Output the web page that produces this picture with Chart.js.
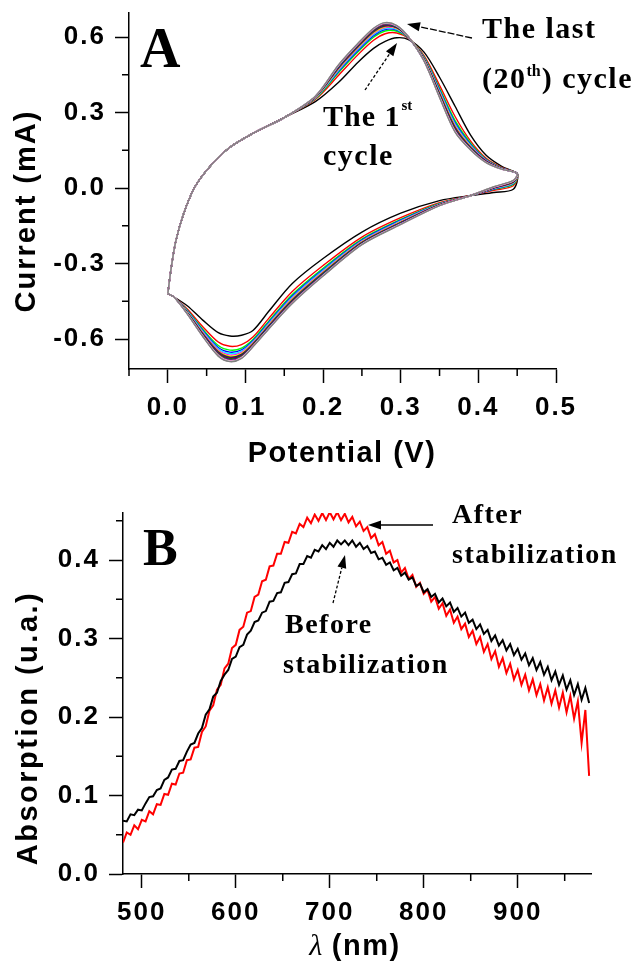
<!DOCTYPE html>
<html>
<head>
<meta charset="utf-8">
<script src="https://cdn.jsdelivr.net/npm/chart.js@4.4.1/dist/chart.umd.min.js"></script>
<style>
  html, body { margin: 0; padding: 0; background: #fff; }
  #wrap { position: relative; width: 638px; height: 962px; }
  #cvA { position: absolute; left: 0; top: 0; }
  #cvB { position: absolute; left: 0; top: 475px; }
</style>
</head>
<body>
<div id="wrap">
  <canvas id="cvA" width="638" height="475"></canvas>
  <canvas id="cvB" width="638" height="487"></canvas>
</div>
<script>
// ---- panel A: cyclic voltammetry, 20 cycles (potential in V, current in mA)
const POTENTIAL = [0, 0.004, 0.01, 0.02, 0.035, 0.055, 0.08, 0.11, 0.15, 0.19, 0.22, 0.245, 0.265, 0.28, 0.295, 0.31, 0.33, 0.35, 0.37, 0.39, 0.41, 0.43, 0.45,
  0.445, 0.42, 0.39, 0.35, 0.3, 0.25, 0.2, 0.16, 0.13, 0.11, 0.095, 0.08, 0.065, 0.045, 0.025, 0.008, 0];

const cycle01 = [-0.42,-0.325,-0.215,-0.105,0.005,0.088,0.162,0.218,0.28, 0.343,0.42,0.5,0.555,0.583,0.597,0.59,0.54,0.44,0.325,0.21,0.13,0.086,0.055, -0.005,-0.018,-0.03,-0.05,-0.1,-0.175,-0.28,-0.38,-0.49,-0.565,-0.585,-0.588,-0.575,-0.525,-0.468, -0.433,-0.42];
const cycle02 = [-0.42,-0.325,-0.215,-0.105,0.005,0.088,0.162,0.218,0.28, 0.352,0.448,0.53,0.587,0.613,0.616,0.594,0.526,0.408,0.284,0.186,0.118,0.082,0.056, 0.009,-0.009,-0.03,-0.058,-0.118,-0.195,-0.308,-0.412,-0.518,-0.591,-0.622,-0.629,-0.612,-0.551,-0.481, -0.433,-0.42];
const cycle03 = [-0.42,-0.325,-0.215,-0.105,0.005,0.088,0.162,0.218,0.28, 0.355,0.459,0.541,0.599,0.624,0.623,0.596,0.521,0.396,0.268,0.178,0.114,0.08,0.057, 0.014,-0.005,-0.03,-0.061,-0.125,-0.203,-0.319,-0.424,-0.529,-0.601,-0.636,-0.644,-0.626,-0.561,-0.486, -0.433,-0.42];
const cycle04 = [-0.42,-0.325,-0.215,-0.105,0.005,0.088,0.162,0.218,0.28, 0.357,0.464,0.547,0.605,0.63,0.627,0.596,0.518,0.39,0.26,0.173,0.112,0.079,0.057, 0.017,-0.004,-0.03,-0.063,-0.128,-0.207,-0.324,-0.43,-0.534,-0.606,-0.643,-0.652,-0.634,-0.566,-0.488, -0.433,-0.42];
const cycle05 = [-0.42,-0.325,-0.215,-0.105,0.005,0.088,0.162,0.218,0.28, 0.358,0.468,0.552,0.61,0.634,0.63,0.597,0.516,0.385,0.254,0.169,0.11,0.078,0.057, 0.019,-0.002,-0.03,-0.064,-0.131,-0.21,-0.328,-0.435,-0.538,-0.61,-0.648,-0.658,-0.639,-0.57,-0.49, -0.433,-0.42];
const cycle06 = [-0.42,-0.325,-0.215,-0.105,0.005,0.088,0.162,0.218,0.28, 0.359,0.472,0.556,0.614,0.638,0.633,0.597,0.514,0.381,0.249,0.166,0.109,0.078,0.057, 0.021,-0.001,-0.03,-0.065,-0.133,-0.212,-0.332,-0.439,-0.542,-0.613,-0.653,-0.664,-0.644,-0.573,-0.492, -0.433,-0.42];
const cycle07 = [-0.42,-0.325,-0.215,-0.105,0.005,0.088,0.162,0.218,0.28, 0.36,0.475,0.559,0.617,0.641,0.634,0.598,0.513,0.378,0.245,0.164,0.107,0.077,0.057, 0.022,0,-0.03,-0.066,-0.135,-0.214,-0.335,-0.442,-0.545,-0.616,-0.657,-0.668,-0.648,-0.576,-0.493, -0.433,-0.42];
const cycle08 = [-0.42,-0.325,-0.215,-0.105,0.005,0.088,0.162,0.218,0.28, 0.361,0.477,0.561,0.62,0.643,0.636,0.598,0.512,0.375,0.242,0.162,0.107,0.077,0.057, 0.023,0.001,-0.03,-0.066,-0.137,-0.216,-0.337,-0.445,-0.547,-0.618,-0.66,-0.671,-0.65,-0.578,-0.494, -0.433,-0.42];
const cycle09 = [-0.42,-0.325,-0.215,-0.105,0.005,0.088,0.162,0.218,0.28, 0.362,0.479,0.563,0.622,0.645,0.637,0.598,0.511,0.373,0.239,0.16,0.106,0.077,0.058, 0.024,0.001,-0.03,-0.067,-0.138,-0.217,-0.339,-0.447,-0.549,-0.62,-0.662,-0.674,-0.653,-0.58,-0.495, -0.433,-0.42];
const cycle10 = [-0.42,-0.325,-0.215,-0.105,0.005,0.088,0.162,0.218,0.28, 0.362,0.481,0.565,0.624,0.647,0.639,0.599,0.51,0.371,0.236,0.159,0.105,0.076,0.058, 0.025,0.002,-0.03,-0.067,-0.139,-0.218,-0.341,-0.449,-0.551,-0.621,-0.665,-0.676,-0.655,-0.581,-0.496, -0.433,-0.42];
const cycle11 = [-0.42,-0.325,-0.215,-0.105,0.005,0.088,0.162,0.218,0.28, 0.363,0.482,0.566,0.626,0.649,0.64,0.599,0.509,0.369,0.234,0.158,0.104,0.076,0.058, 0.026,0.002,-0.03,-0.068,-0.14,-0.219,-0.342,-0.451,-0.552,-0.623,-0.666,-0.678,-0.657,-0.583,-0.496, -0.433,-0.42];
const cycle12 = [-0.42,-0.325,-0.215,-0.105,0.005,0.088,0.162,0.218,0.28, 0.363,0.483,0.568,0.627,0.65,0.64,0.599,0.508,0.368,0.232,0.157,0.104,0.076,0.058, 0.027,0.003,-0.03,-0.068,-0.141,-0.22,-0.343,-0.452,-0.553,-0.624,-0.668,-0.68,-0.659,-0.584,-0.497, -0.433,-0.42];
const cycle13 = [-0.42,-0.325,-0.215,-0.105,0.005,0.088,0.162,0.218,0.28, 0.363,0.484,0.569,0.629,0.651,0.641,0.599,0.508,0.366,0.23,0.156,0.103,0.076,0.058, 0.027,0.003,-0.03,-0.068,-0.141,-0.221,-0.344,-0.454,-0.554,-0.625,-0.67,-0.682,-0.661,-0.585,-0.497, -0.433,-0.42];
const cycle14 = [-0.42,-0.325,-0.215,-0.105,0.005,0.088,0.162,0.218,0.28, 0.364,0.485,0.57,0.63,0.652,0.642,0.599,0.507,0.365,0.229,0.155,0.103,0.076,0.058, 0.028,0.003,-0.03,-0.069,-0.142,-0.222,-0.346,-0.455,-0.555,-0.626,-0.671,-0.683,-0.662,-0.586,-0.498, -0.433,-0.42];
const cycle15 = [-0.42,-0.325,-0.215,-0.105,0.005,0.088,0.162,0.218,0.28, 0.364,0.487,0.571,0.631,0.653,0.643,0.6,0.507,0.364,0.227,0.154,0.102,0.076,0.058, 0.028,0.004,-0.03,-0.069,-0.143,-0.223,-0.347,-0.456,-0.557,-0.627,-0.672,-0.685,-0.663,-0.587,-0.498, -0.433,-0.42];
const cycle16 = [-0.42,-0.325,-0.215,-0.105,0.005,0.088,0.162,0.218,0.28, 0.364,0.487,0.572,0.632,0.654,0.643,0.6,0.506,0.363,0.226,0.153,0.102,0.075,0.058, 0.029,0.004,-0.03,-0.069,-0.143,-0.223,-0.347,-0.457,-0.557,-0.628,-0.674,-0.686,-0.665,-0.588,-0.499, -0.433,-0.42];
const cycle17 = [-0.42,-0.325,-0.215,-0.105,0.005,0.088,0.162,0.218,0.28, 0.364,0.488,0.573,0.633,0.655,0.644,0.6,0.506,0.362,0.225,0.153,0.102,0.075,0.058, 0.029,0.004,-0.03,-0.069,-0.144,-0.224,-0.348,-0.458,-0.558,-0.628,-0.675,-0.687,-0.666,-0.588,-0.499, -0.433,-0.42];
const cycle18 = [-0.42,-0.325,-0.215,-0.105,0.005,0.088,0.162,0.218,0.28, 0.365,0.489,0.574,0.634,0.656,0.644,0.6,0.506,0.361,0.224,0.152,0.101,0.075,0.058, 0.029,0.005,-0.03,-0.07,-0.144,-0.224,-0.349,-0.459,-0.559,-0.629,-0.675,-0.688,-0.666,-0.589,-0.499, -0.433,-0.42];
const cycle19 = [-0.42,-0.325,-0.215,-0.105,0.005,0.088,0.162,0.218,0.28, 0.365,0.489,0.574,0.634,0.656,0.645,0.6,0.505,0.361,0.223,0.151,0.101,0.075,0.058, 0.03,0.005,-0.03,-0.07,-0.145,-0.225,-0.349,-0.459,-0.559,-0.629,-0.676,-0.689,-0.667,-0.589,-0.5, -0.433,-0.42];
const cycle20 = [-0.42,-0.325,-0.215,-0.105,0.005,0.088,0.162,0.218,0.28, 0.365,0.49,0.575,0.635,0.657,0.645,0.6,0.505,0.36,0.222,0.151,0.101,0.075,0.058, 0.03,0.005,-0.03,-0.07,-0.145,-0.225,-0.35,-0.46,-0.56,-0.63,-0.677,-0.69,-0.668,-0.59,-0.5, -0.433,-0.42];

const CYCLES = [cycle01, cycle02, cycle03, cycle04, cycle05, cycle06, cycle07, cycle08, cycle09, cycle10,
  cycle11, cycle12, cycle13, cycle14, cycle15, cycle16, cycle17, cycle18, cycle19, cycle20];
// Origin default colour order
const CYCLE_COLORS = ['#000000', '#ff0000', '#00ff00', '#0000ff', '#00ffff', '#ff00ff', '#ffff00', '#808000', '#000080', '#800080',
  '#800000', '#008000', '#008080', '#0000a0', '#ff8000', '#8000ff', '#ff0080', '#ffffff', '#c0c0c0', '#808080'];

// ---- panel B: absorption spectra
const WAVELENGTH = [480,484,488,492,496,500,504,508,512,516,
  520,524,528,532,536,540,544,548,552,556,
  560,564,568,572,576,580,584,588,592,596,
  600,604,608,612,616,620,624,628,632,636,
  640,644,648,652,656,660,664,668,672,676,
  680,684,688,692,696,700,704,708,712,716,
  720,724,728,732,736,740,744,748,752,756,
  760,764,768,772,776,780,784,788,792,796,
  800,804,808,812,816,820,824,828,832,836,
  840,844,848,852,856,860,864,868,872,876,
  880,884,888,892,896,900,904,908,912,916,
  920,924,928,932,936,940,944,948,952,956,
  960,964,968,972,976];

const ABS_BEFORE = [.068,.067,.076,.075,.082,.081,.090,.098,.099,.107,
  .109,.120,.123,.133,.134,.144,.145,.156,.165,.167,
  .179,.186,.203,.210,.226,.231,.246,.254,.260,.274,
  .277,.289,.292,.305,.310,.321,.323,.333,.335,.347,
  .348,.358,.359,.371,.372,.382,.383,.395,.395,.405,
  .403,.413,.411,.419,.414,.422,.417,.425,.420,.425,
  .419,.425,.417,.422,.414,.418,.409,.411,.401,.403,
  .394,.397,.387,.390,.380,.384,.375,.378,.367,.370,
  .359,.363,.353,.357,.346,.351,.341,.346,.334,.339,
  .328,.333,.320,.324,.312,.318,.306,.311,.297,.304,
  .291,.298,.285,.293,.279,.287,.273,.281,.266,.275,
  .260,.270,.254,.264,.247,.258,.241,.253,.235,.247,
  .228,.242,.222,.237,.218];

const ABS_AFTER = [.040,.053,.050,.062,.057,.069,.067,.080,.076,.089,
  .088,.102,.101,.115,.114,.128,.129,.145,.146,.161,
  .162,.181,.188,.208,.215,.235,.241,.262,.268,.288,
  .292,.311,.315,.333,.335,.353,.356,.373,.375,.392,
  .393,.408,.408,.423,.422,.436,.434,.446,.442,.454,
  .447,.458,.450,.460,.451,.461,.452,.461,.451,.459,
  .448,.455,.443,.449,.437,.442,.428,.433,.419,.423,
  .408,.412,.397,.400,.384,.390,.376,.381,.366,.371,
  .357,.362,.347,.353,.338,.345,.329,.337,.320,.328,
  .312,.319,.302,.310,.293,.302,.283,.293,.274,.284,
  .264,.275,.256,.268,.248,.260,.241,.254,.234,.248,
  .228,.242,.221,.238,.217,.234,.212,.231,.206,.227,
  .198,.220,.167,.209,.125];

const SANS = '"Liberation Sans", Arial, sans-serif';
const SERIF = '"Liberation Serif", "Times New Roman", serif';

function drawText(ctx, str, x, y, font, ls) {
  ctx.font = font;
  ctx.letterSpacing = (ls || 0) + 'px';
  ctx.fillText(str, x, y);
  return x + ctx.measureText(str).width;
}

function drawRotated(ctx, str, x, y, font, ls) {
  ctx.save();
  ctx.translate(x, y);
  ctx.rotate(-Math.PI / 2);
  ctx.font = font;
  ctx.letterSpacing = ls + 'px';
  ctx.textAlign = 'center';
  ctx.textBaseline = 'alphabetic';
  ctx.fillText(str, 0, 0);
  ctx.restore();
}

function drawArrow(ctx, x0, y0, x1, y1, dash) {
  const a = Math.atan2(y1 - y0, x1 - x0);
  const hl = 13, hw = 4.5;
  const bx = x1 - hl * Math.cos(a), by = y1 - hl * Math.sin(a);
  ctx.lineWidth = 1.3;
  ctx.setLineDash(dash || []);
  ctx.beginPath();
  ctx.moveTo(x0, y0);
  ctx.lineTo(bx, by);
  ctx.stroke();
  ctx.setLineDash([]);
  ctx.beginPath();
  ctx.moveTo(x1, y1);
  ctx.lineTo(bx + hw * Math.sin(a), by - hw * Math.cos(a));
  ctx.lineTo(bx - hw * Math.sin(a), by + hw * Math.cos(a));
  ctx.closePath();
  ctx.fill();
}

// minor ticks halfway between the major ones, plus wide tick-label spacing
const minorTicks = {
  id: 'minorTicks',
  beforeDraw(chart) {
    chart.ctx.letterSpacing = '2px';
  },
  afterDraw(chart) {
    const ctx = chart.ctx;
    ctx.save();
    ctx.strokeStyle = '#000';
    ctx.lineWidth = 1.5;
    ['x', 'y'].forEach(id => {
      const s = chart.scales[id];
      const t = s.ticks;
      if (t.length < 2) return;
      const step = t[1].value - t[0].value;
      ctx.beginPath();
      for (let v = t[0].value - step / 2; v <= s.max + 1e-9; v += step) {
        if (v < s.min - 1e-9) continue;
        const p = s.getPixelForValue(v);
        if (id === 'x') { ctx.moveTo(p, s.top); ctx.lineTo(p, s.top + 7); }
        else { ctx.moveTo(s.right, p); ctx.lineTo(s.right - 7, p); }
      }
      ctx.stroke();
    });
    ctx.restore();
  }
};

function axis(min, max, step, fit, digits) {
  return {
    type: 'linear', min: min, max: max,
    afterFit: fit,
    // major ticks on whole multiples of the step only
    afterBuildTicks: s => {
      const out = [];
      for (let v = Math.ceil(s.min / step - 1e-9) * step; v <= s.max + 1e-9; v += step) {
        out.push({ value: Math.round(v * 1e6) / 1e6 });
      }
      s.ticks = out;
    },
    grid: { drawOnChartArea: false, drawTicks: true, tickLength: 14, tickWidth: 1.5, tickColor: '#000', color: '#000' },
    border: { display: true, color: '#000', width: 1.5 },
    ticks: {
      padding: 9, color: '#000', maxRotation: 0, autoSkip: false,
      font: { family: SANS, size: 26, weight: 'bold' },
      callback: v => Number(v).toFixed(digits)
    }
  };
}

const annotateA = {
  id: 'annotateA',
  afterDraw(chart) {
    const ctx = chart.ctx;
    ctx.save();
    ctx.fillStyle = '#000';
    ctx.strokeStyle = '#000';
    ctx.textAlign = 'left';
    ctx.textBaseline = 'alphabetic';
    drawRotated(ctx, 'Current (mA)', 35, 211, `bold 29px ${SANS}`, 2);
    ctx.textAlign = 'center';
    drawText(ctx, 'Potential (V)', 342, 462, `bold 29px ${SANS}`, 1.5);
    ctx.textAlign = 'left';
    drawText(ctx, 'A', 140, 67, `bold 56px ${SERIF}`, 0);
    const big = `bold 30px ${SERIF}`;
    drawText(ctx, 'The last', 482, 38, big, 1.5);
    let x = drawText(ctx, '(20', 482, 88, big, 1.5);
    x = drawText(ctx, 'th', x, 76, `bold 16px ${SERIF}`, 0);
    drawText(ctx, ') cycle', x + 1, 88, big, 1.5);
    drawArrow(ctx, 472, 38, 407, 24, [7, 2]);
    x = drawText(ctx, 'The 1', 323, 126, big, 1);
    drawText(ctx, 'st', x + 1, 110, `bold 15px ${SERIF}`, 0);
    drawText(ctx, 'cycle', 323, 165, big, 1.5);
    drawArrow(ctx, 365, 90, 397, 43, [3, 2]);
    ctx.restore();
  }
};

const annotateB = {
  id: 'annotateB',
  afterDraw(chart) {
    const ctx = chart.ctx;
    ctx.save();
    ctx.fillStyle = '#000';
    ctx.strokeStyle = '#000';
    ctx.textAlign = 'left';
    ctx.textBaseline = 'alphabetic';
    drawRotated(ctx, 'Absorption (u.a.)', 37, 253, `bold 29px ${SANS}`, 2.5);
    ctx.font = `italic 30px ${SERIF}`;
    ctx.letterSpacing = '0px';
    const w1 = ctx.measureText('λ').width;
    ctx.font = `bold 29px ${SANS}`;
    ctx.letterSpacing = '1.5px';
    const w2 = ctx.measureText(' (nm)').width;
    const x0 = 355 - (w1 + w2) / 2;
    drawText(ctx, 'λ', x0, 480, `italic 30px ${SERIF}`, 0);
    drawText(ctx, ' (nm)', x0 + w1, 480, `bold 29px ${SANS}`, 1.5);
    drawText(ctx, 'B', 143, 90, `bold 52px ${SERIF}`, 0);
    const f = `bold 28px ${SERIF}`;
    drawText(ctx, 'After', 452, 48, f, 1.5);
    drawText(ctx, 'stabilization', 452, 88, f, 1.5);
    drawArrow(ctx, 433, 50, 368, 50);
    drawText(ctx, 'Before', 285, 158, f, 1.5);
    drawText(ctx, 'stabilization', 283, 198, f, 1.5);
    drawArrow(ctx, 333, 128, 345, 80, [3, 2]);
    ctx.restore();
  }
};

const cvDatasets = CYCLES.map((cur, k) => ({
  data: POTENTIAL.map((e, i) => ({ x: e, y: cur[i] })),
  borderColor: CYCLE_COLORS[k],
  borderWidth: 1.4,
  pointRadius: 0,
  showLine: true,
  tension: 0.3,
  order: CYCLES.length - k
}));

new Chart(document.getElementById('cvA'), {
  type: 'scatter',
  data: { datasets: cvDatasets },
  options: {
    responsive: false,
    animation: false,
    devicePixelRatio: 1,
    layout: { padding: { left: 0, top: 13, right: 82, bottom: 0 } },
    plugins: { legend: { display: false }, tooltip: { enabled: false } },
    scales: {
      x: axis(-0.05, 0.5, 0.1, s => { s.height = 106; s.paddingLeft = 0; s.paddingRight = 0; }, 1),
      y: axis(-0.7192, 0.6954, 0.3, s => { s.width = 129; s.paddingTop = 0; s.paddingBottom = 0; }, 1)
    }
  },
  plugins: [minorTicks, annotateA]
});

new Chart(document.getElementById('cvB'), {
  type: 'scatter',
  data: {
    datasets: [
      {
        label: 'After stabilization',
        data: WAVELENGTH.map((w, i) => ({ x: w, y: ABS_AFTER[i] })),
        borderColor: '#ff0000', borderWidth: 2, pointRadius: 0, showLine: true, order: 2
      },
      {
        label: 'Before stabilization',
        data: WAVELENGTH.map((w, i) => ({ x: w, y: ABS_BEFORE[i] })),
        borderColor: '#000000', borderWidth: 2, pointRadius: 0, showLine: true, order: 1
      }
    ]
  },
  options: {
    responsive: false,
    animation: false,
    devicePixelRatio: 1,
    layout: { padding: { left: 0, top: 38, right: 47, bottom: 0 } },
    plugins: { legend: { display: false }, tooltip: { enabled: false } },
    scales: {
      x: axis(480, 978, 100, s => { s.height = 88; s.paddingLeft = 0; s.paddingRight = 0; }, 0),
      y: axis(0, 0.46, 0.1, s => { s.width = 123; s.paddingTop = 0; s.paddingBottom = 0; }, 1)
    }
  },
  plugins: [minorTicks, annotateB]
});
</script>
</body>
</html>
